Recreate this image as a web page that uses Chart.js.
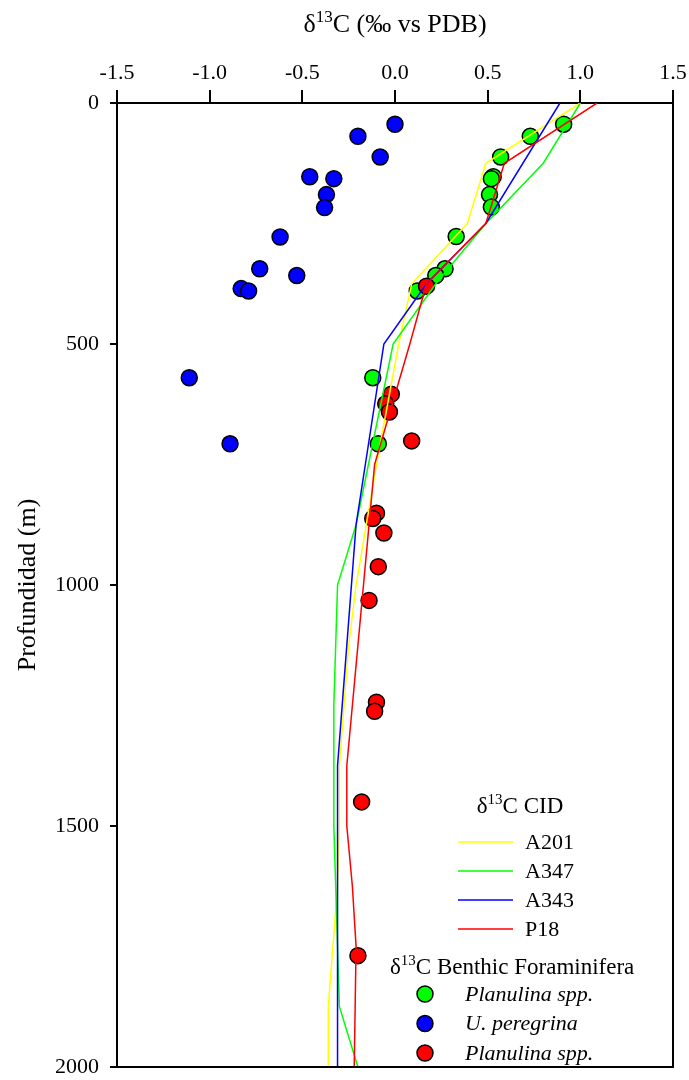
<!DOCTYPE html>
<html lang="es">
<head>
<meta charset="UTF-8">
<title>d13C vs profundidad</title>
<script src="https://cdn.jsdelivr.net/npm/chart.js@4.4.1/dist/chart.umd.min.js"></script>
<style>
body { margin: 0; background: #fff; }
</style>
</head>
<body>
<canvas id="myChart" width="689" height="1080"></canvas>
<script>
// perfiles de d13C CID (profundidad en m, valor en permil)
var a201Depth = [0, 125, 250, 375, 500, 750, 1000, 1125, 1375, 1500, 1625, 1875, 2000];
var a201Val   = [1.0, 0.49, 0.39, 0.09, 0.02, -0.10, -0.21, -0.25, -0.30, -0.30, -0.31, -0.36, -0.36];

var a347Depth = [0, 125, 250, 375, 500, 875, 1000, 1250, 1500, 1875, 2000];
var a347Val   = [1.0, 0.80, 0.49, 0.22, -0.01, -0.21, -0.31, -0.33, -0.33, -0.30, -0.20];

var a343Depth = [0, 250, 375, 500, 875, 1125, 1375, 2000];
var a343Val   = [0.89, 0.49, 0.17, -0.06, -0.21, -0.26, -0.31, -0.31];

var p18Depth = [0, 125, 250, 375, 500, 750, 1375, 1500, 1625, 1750, 2000];
var p18Val   = [1.09, 0.59, 0.49, 0.17, 0.08, -0.11, -0.26, -0.26, -0.23, -0.21, -0.22];

// foraminiferos bentonicos
var greenDepth = [44, 69, 112, 153, 157, 190, 216, 277, 344, 358, 390, 570, 707];
var greenVal   = [0.91, 0.73, 0.57, 0.53, 0.52, 0.51, 0.52, 0.33, 0.27, 0.22, 0.12, -0.12, -0.09];

var blueDepth = [44, 69, 112, 153, 157, 190, 217, 278, 344, 358, 385, 390, 570, 707];
var blueVal   = [0.0, -0.20, -0.08, -0.46, -0.33, -0.37, -0.38, -0.62, -0.73, -0.53, -0.83, -0.79, -1.11, -0.89];

var redDepth = [380, 604, 624, 641, 701, 851, 862, 892, 962, 1032, 1243, 1262, 1450, 1769];
var redVal   = [0.17, -0.02, -0.05, -0.03, 0.09, -0.10, -0.12, -0.06, -0.09, -0.14, -0.10, -0.11, -0.18, -0.20];

var xTicks = [-1.5, -1.0, -0.5, 0.0, 0.5, 1.0, 1.5];
var yTicks = [0, 500, 1000, 1500, 2000];

var serif = "'Liberation Serif', 'Times New Roman', serif";

var pts = function(vals, depths) {
    var out = [];
    for (var i = 0; i < vals.length; i++) {
        out.push({x: vals[i], y: depths[i]});
    }
    return out;
};

var lineSet = function(label, vals, depths, color) {
    return {
        label: label, data: pts(vals, depths), showLine: true,
        borderColor: color, backgroundColor: color, borderWidth: 1.5,
        pointRadius: 0, pointHoverRadius: 0, tension: 0, kind: 'line'
    };
};

var dotSet = function(label, vals, depths, color) {
    return {
        label: label, data: pts(vals, depths), showLine: false,
        backgroundColor: color, borderColor: '#000', pointBorderWidth: 1.5,
        pointRadius: 8, pointHoverRadius: 8, kind: 'dot'
    };
};

// dibuja "d13C ..." con superindice
var supText = function(ctx, x, y, size, pre, sup, post, align) {
    ctx.font = size + 'px ' + serif;
    var w1 = ctx.measureText(pre).width;
    ctx.font = Math.round(size * 0.65) + 'px ' + serif;
    var w2 = ctx.measureText(sup).width;
    ctx.font = size + 'px ' + serif;
    var w3 = ctx.measureText(post).width;
    var x0 = align === 'center' ? x - (w1 + w2 + w3) / 2 : x;
    ctx.textAlign = 'left';
    ctx.textBaseline = 'alphabetic';
    ctx.fillText(pre, x0, y);
    ctx.font = Math.round(size * 0.65) + 'px ' + serif;
    ctx.fillText(sup, x0 + w1, y - size * 0.38);
    ctx.font = size + 'px ' + serif;
    ctx.fillText(post, x0 + w1 + w2, y);
};

var decor = {
    id: 'decor',
    afterDatasetsDraw: function(chart) {
        var ctx = chart.ctx, a = chart.chartArea;
        ctx.save();
        ctx.strokeStyle = '#000';
        ctx.lineWidth = 2;
        ctx.beginPath();
        ctx.moveTo(a.right, a.top);
        ctx.lineTo(a.right, a.bottom);
        ctx.lineTo(a.left, a.bottom);
        ctx.stroke();
        ctx.restore();
    },
    afterDraw: function(chart) {
        var ctx = chart.ctx, a = chart.chartArea;
        ctx.save();
        ctx.fillStyle = '#000';
        // titulo eje x
        supText(ctx, (a.left + a.right) / 2, 32, 26, '\u03b4', '13', 'C (\u2030 vs PDB)', 'center');
        // titulo eje y
        ctx.save();
        ctx.translate(28, (a.top + a.bottom) / 2);
        ctx.rotate(-Math.PI / 2);
        ctx.font = '26px ' + serif;
        ctx.textAlign = 'center';
        ctx.textBaseline = 'middle';
        ctx.fillText('Profundidad (m)', 0, 0);
        ctx.restore();

        // leyenda
        var ds = chart.data.datasets;
        supText(ctx, 520, 813, 23, '\u03b4', '13', 'C CID', 'center');
        var ly = 842;
        ds.filter(function(d) { return d.kind === 'line'; })
          .sort(function(p, q) { return p.legendOrder - q.legendOrder; })
          .forEach(function(d) {
            ctx.strokeStyle = d.borderColor;
            ctx.lineWidth = 1.5;
            ctx.beginPath();
            ctx.moveTo(458, ly);
            ctx.lineTo(513, ly);
            ctx.stroke();
            ctx.fillStyle = '#000';
            ctx.font = '22px ' + serif;
            ctx.textAlign = 'left';
            ctx.textBaseline = 'middle';
            ctx.fillText(d.label, 525, ly + 1);
            ly += 29;
        });
        supText(ctx, 390, 974, 23, '\u03b4', '13', 'C Benthic Foraminifera', 'left');
        var py = 994;
        ds.filter(function(d) { return d.kind === 'dot'; })
          .sort(function(p, q) { return p.legendOrder - q.legendOrder; })
          .forEach(function(d) {
            ctx.beginPath();
            ctx.arc(425, py, 8, 0, Math.PI * 2);
            ctx.fillStyle = d.backgroundColor;
            ctx.fill();
            ctx.strokeStyle = '#000';
            ctx.lineWidth = 1.5;
            ctx.stroke();
            ctx.fillStyle = '#000';
            ctx.font = 'italic 22px ' + serif;
            ctx.textAlign = 'left';
            ctx.textBaseline = 'middle';
            ctx.fillText(d.label, 465, py + 1);
            py += 29.5;
        });
        ctx.restore();
    }
};

var datasets = [
    lineSet('P18', p18Val, p18Depth, '#ff0000'),
    lineSet('A343', a343Val, a343Depth, '#0000ff'),
    lineSet('A347', a347Val, a347Depth, '#00ff00'),
    lineSet('A201', a201Val, a201Depth, '#ffff00'),
    dotSet('Planulina spp.', redVal, redDepth, '#ff0000'),
    dotSet('Planulina spp.', greenVal, greenDepth, '#00ff00'),
    dotSet('U. peregrina', blueVal, blueDepth, '#0000ff')
];
// orden de la leyenda
datasets[3].legendOrder = 0; datasets[2].legendOrder = 1; datasets[1].legendOrder = 2; datasets[0].legendOrder = 3;
datasets[5].legendOrder = 0; datasets[6].legendOrder = 1; datasets[4].legendOrder = 2;

Chart.defaults.font.family = serif;
Chart.defaults.color = '#000';

const ctx = document.getElementById('myChart').getContext('2d');
const myChart = new Chart(ctx, {
    type: 'scatter',
    data: { datasets: datasets },
    options: {
        responsive: false,
        animation: false,
        events: [],
        layout: { padding: { left: 0, right: 16, top: 0, bottom: 13 } },
        plugins: { legend: { display: false }, tooltip: { enabled: false } },
        scales: {
            x: {
                type: 'linear', position: 'top', min: -1.5, max: 1.5,
                afterBuildTicks: function(s) { s.ticks = xTicks.map(function(v) { return {value: v}; }); },
                afterFit: function(s) { s.height = 103; s.paddingLeft = 0; s.paddingRight = 0; },
                ticks: { font: { size: 22 }, padding: 4, maxRotation: 0,
                         callback: function(v) { return Number(v).toFixed(1); } },
                grid: { drawOnChartArea: false, drawTicks: true, tickLength: 13, color: '#000', lineWidth: 2 },
                border: { display: true, color: '#000', width: 2 }
            },
            y: {
                type: 'linear', reverse: true, min: 0, max: 2000,
                afterBuildTicks: function(s) { s.ticks = yTicks.map(function(v) { return {value: v}; }); },
                afterFit: function(s) { s.width = 117; s.paddingTop = 0; s.paddingBottom = 0; },
                ticks: { font: { size: 22 }, padding: 11,
                         callback: function(v) { return String(v); } },
                grid: { drawOnChartArea: false, drawTicks: true, tickLength: 7, color: '#000', lineWidth: 2 },
                border: { display: true, color: '#000', width: 2 }
            }
        }
    },
    plugins: [decor]
});
</script>
</body>
</html>
